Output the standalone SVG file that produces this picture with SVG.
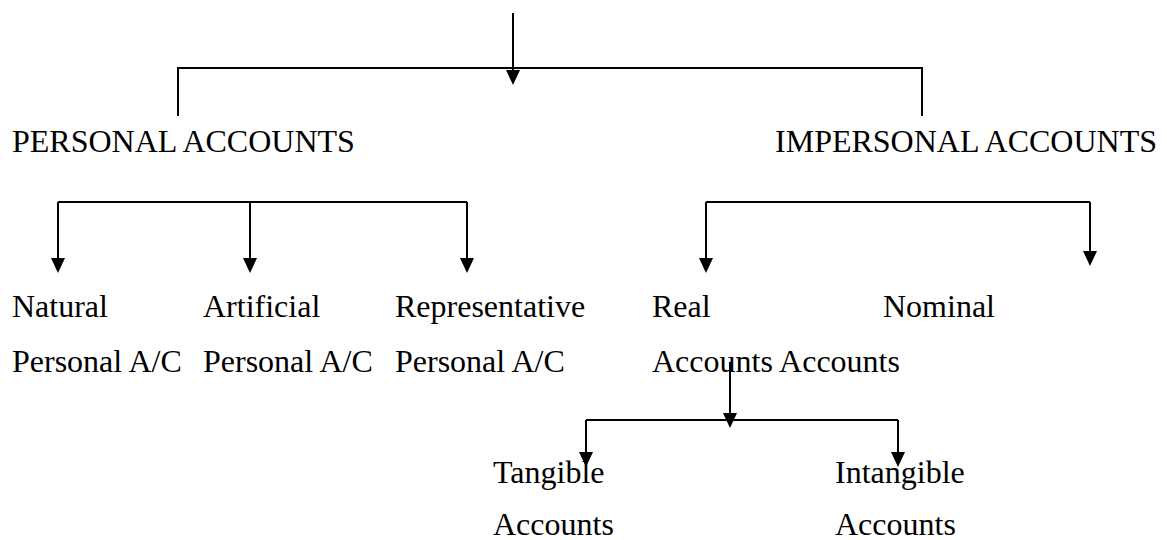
<svg xmlns="http://www.w3.org/2000/svg" width="1167" height="540" viewBox="0 0 1167 540">
  <style>
    text { font-family: "Liberation Serif", "Times New Roman", serif; font-size: 32px; fill: #000; }
    .ln { fill: none; stroke: #000; stroke-width: 2; }
  </style>
  <defs>
    <marker id="ah" viewBox="0 0 15 14" refX="7" refY="7" markerWidth="15" markerHeight="14" markerUnits="userSpaceOnUse" orient="auto">
      <path d="M0,0 L15,7 L0,14 z" fill="#000"/>
    </marker>
  </defs>
  <rect width="1167" height="540" fill="#fff"/>
  <g id="connectors">
    <path class="ln" d="M513 13 V77" marker-end="url(#ah)"/>
    <path class="ln" d="M178 116 V68 H922 V116"/>
    <path class="ln" d="M58 202 H467"/>
    <path class="ln" d="M58 202 V265" marker-end="url(#ah)"/>
    <path class="ln" d="M250 202 V265" marker-end="url(#ah)"/>
    <path class="ln" d="M467 202 V265" marker-end="url(#ah)"/>
    <path class="ln" d="M706 202 H1090"/>
    <path class="ln" d="M706 202 V265" marker-end="url(#ah)"/>
    <path class="ln" d="M1090 202 V258" marker-end="url(#ah)"/>
    <path class="ln" d="M730 362 V420" marker-end="url(#ah)"/>
    <path class="ln" d="M586 420 H898"/>
    <path class="ln" d="M586 420 V459" marker-end="url(#ah)"/>
    <path class="ln" d="M898 420 V459" marker-end="url(#ah)"/>
  </g>
  <g id="personal"><text x="12" y="152">PERSONAL ACCOUNTS</text></g>
  <g id="impersonal"><text x="1157" y="152" text-anchor="end">IMPERSONAL ACCOUNTS</text></g>
  <g id="natural"><text x="12" y="317">Natural</text><text x="12" y="372">Personal A/C</text></g>
  <g id="artificial"><text x="203" y="317">Artificial</text><text x="203" y="372">Personal A/C</text></g>
  <g id="representative"><text x="395" y="317">Representative</text><text x="395" y="372">Personal A/C</text></g>
  <g id="real"><text x="652" y="317">Real</text><text x="652" y="372">Accounts Accounts</text></g>
  <g id="nominal"><text x="883" y="317">Nominal</text></g>
  <g id="tangible"><text x="493" y="483">Tangible</text><text x="493" y="535">Accounts</text></g>
  <g id="intangible"><text x="835" y="483">Intangible</text><text x="835" y="535">Accounts</text></g>
</svg>
